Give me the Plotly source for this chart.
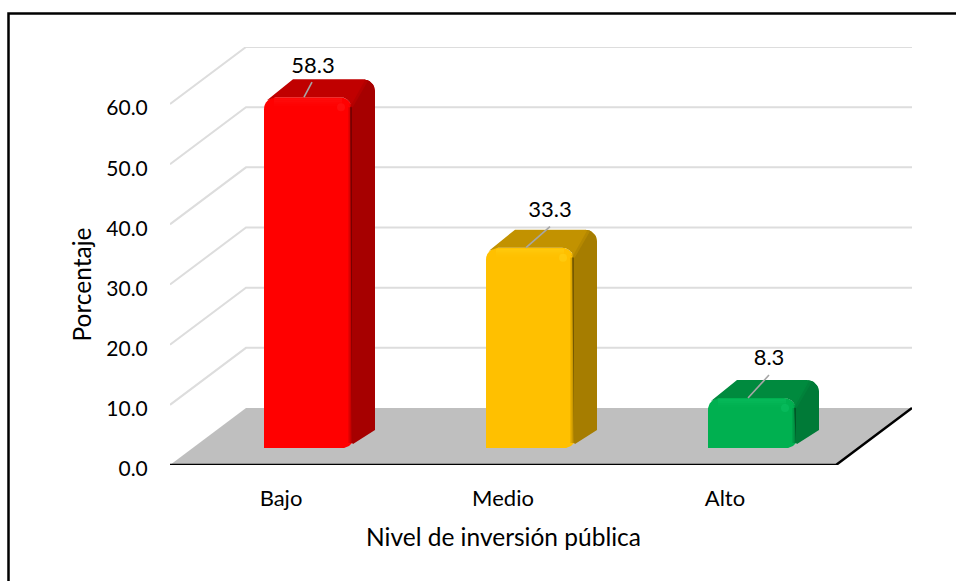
import math
import plotly.graph_objects as go

categories = ["Bajo", "Medio", "Alto"]
values = [58.3, 33.3, 8.3]
tick_values = [0, 10, 20, 30, 40, 50, 60]
tick_labels = ["0.0", "10.0", "20.0", "30.0", "40.0", "50.0", "60.0"]
x_title = "Nivel de inversión pública"
y_title = "Porcentaje"

front_colors = ["#FF0000", "#FFC000", "#00B050"]
top_colors = ["#C00000", "#C29200", "#008A3E"]
side_colors = ["#A60000", "#A67D00", "#007A37"]
glow_colors = ["#FF2020", "#FFD820", "#10C868"]
FLOOR = "#BFBFBF"

# layout scale (pixels per axis unit)
W, H = 956, 581
L, R, T, B = 170, 44, 47, 116
PXX = 222.0
FLOOR_DX = 76 / PXX
PXY = (H - T - B) / 69.48
FLOOR_DY = 57 / PXY
BAR_W = 88 / PXX
BAR_SHIFT = 27 / PXX
BASE = 17 / PXY
DEP_X = 23 / PXX
DEP_Y = 18 / PXY
RAD = 12

label_dx = [5, 20, 17]
label_dy = [30, 36, 39]
leader_dx = [8, 24, 21]
leader_dy = [15, 21, 23]


def px(d):
    return d / PXX


def py(d):
    return d / PXY


def arc(cx, cy, a0, a1, r, n=8):
    out = []
    for i in range(n + 1):
        a = math.radians(a0 + (a1 - a0) * i / n)
        out.append((cx + px(r * math.cos(a)), cy + py(r * math.sin(a))))
    return out


def poly(points, color, opacity=1.0):
    return go.Scatter(
        x=[p[0] for p in points] + [points[0][0]],
        y=[p[1] for p in points] + [points[0][1]],
        mode="lines", fill="toself", fillcolor=color, opacity=opacity,
        line=dict(width=0, color=color), hoverinfo="skip", showlegend=False,
    )


def strip(x0, y0, x1, y1, color, opacity, width=1.0):
    return go.Scatter(
        x=[x0, x1], y=[y0, y1], mode="lines", opacity=opacity,
        line=dict(width=width, color=color), hoverinfo="skip", showlegend=False,
    )


centres = [i + 0.5 + BAR_SHIFT for i in range(len(values))]

shapes = []
shapes.append(dict(type="path", xref="x", yref="y", layer="below", line_width=0,
                   fillcolor=FLOOR,
                   path=f"M0,0 L3,0 L{3 + FLOOR_DX},{FLOOR_DY} L{FLOOR_DX},{FLOOR_DY} Z"))
for v in tick_values[1:]:
    shapes.append(dict(type="path", xref="x", yref="y", layer="below",
                       line=dict(color="#DDDDDD", width=2),
                       path=f"M0,{v} L{FLOOR_DX},{v + FLOOR_DY} L{3 + FLOOR_DX},{v + FLOOR_DY}"))

traces = []
traces.append(go.Bar(x=centres, y=values, base=[BASE] * 3, width=[BAR_W] * 3,
                     marker=dict(color=front_colors, line_width=0, cornerradius=RAD),
                     hoverinfo="skip", showlegend=False))

for i, v in enumerate(values):
    c = centres[i]
    xl, xr = c - BAR_W / 2, c + BAR_W / 2
    y0, y1 = BASE, BASE + v
    # square off the lower edge of the front face
    low = [(xl, y0), (xr - px(8), y0), (xr - px(3), y0 + py(2)), (xr, y0 + py(5)),
           (xr, y0 + py(13)), (xl, y0 + py(13))]
    traces.append(poly(low, front_colors[i]))
    # top face
    top = [(xl + px(3), y1 - py(3)), (xl + px(29), y1 + DEP_Y)]
    top += [(xr + DEP_X - px(12), y1 + DEP_Y)]
    top += arc(xr + DEP_X - px(12), y1 + DEP_Y - py(12), 90, 0, 12)
    top += [(xr, y1 - py(12))]
    top += arc(xr - px(12), y1 - py(12), 0, 90, 12, 5)
    top += [(xl + px(12), y1)]
    traces.append(poly(top, top_colors[i]))
    # side face
    side = [(xr - px(2), y1 - py(10))]
    side += [(xr + DEP_X - px(10), y1 + DEP_Y - py(1))]
    side += arc(xr + DEP_X - px(12), y1 + DEP_Y - py(12), 90, 0, 12)
    side += [(xr + DEP_X, y0 + DEP_Y), (xr + px(1), y0 + py(4)), (xr, y0 + py(5))]
    traces.append(poly(side, side_colors[i]))
    # soft crease between top and side
    traces.append(strip(xr - px(1), y1 - py(9), xr + DEP_X - px(9), y1 + DEP_Y - py(1),
                        top_colors[i], 0.55, 4))
    # bevel shading on the front face
    for k, op in enumerate([0.28, 0.2, 0.13, 0.07]):
        xs = xr - px(k * 1.0 + 0.5)
        traces.append(strip(xs, y0 + py(5), xs, y1 - py(10), "#000000", op, 1.0))
    for k, op in enumerate([0.35, 0.25, 0.15, 0.08]):
        ys = y1 - py(2 + k * 2)
        traces.append(strip(xl + px(10), ys, xr - px(10), ys, glow_colors[i], op, 2))
    traces.append(go.Scatter(x=[xr - px(11)], y=[y1 - py(10)], mode="markers",
                             marker=dict(size=8, color=glow_colors[i], opacity=0.4, line_width=0),
                             hoverinfo="skip", showlegend=False))
    # leader line
    sx, sy = c - px(4), y1
    traces.append(strip(sx, sy, sx + px(leader_dx[i]), sy + py(leader_dy[i]), "#A6A6A6", 1, 1.6))

# value labels
traces.append(go.Scatter(
    x=[centres[i] + px(label_dx[i]) for i in range(3)],
    y=[BASE + values[i] + py(label_dy[i]) for i in range(3)],
    mode="text", text=[f"{v:.1f}" for v in values], textposition="middle center",
    textfont=dict(family="Lato", size=22, color="#000000"),
    hoverinfo="skip", showlegend=False, cliponaxis=False,
))

# front floor edges
traces.append(go.Scatter(x=[0, 3, 3 + FLOOR_DX], y=[0, 0, FLOOR_DY], mode="lines",
                         line=dict(color="#000000", width=2.5), hoverinfo="skip",
                         showlegend=False, cliponaxis=False))

fig = go.Figure(traces)
fig.update_layout(
    width=W, height=H, margin=dict(l=L, r=R, t=T, b=B),
    paper_bgcolor="#FFFFFF", plot_bgcolor="rgba(0,0,0,0)",
    font=dict(family="Lato", size=20, color="#000000"),
    shapes=shapes + [dict(type="rect", xref="paper", yref="paper",
                          x0=-L / (W - L - R) + 8.5 / (W - L - R), x1=1 + (R + 20) / (W - L - R),
                          y0=-(B + 20) / (H - T - B), y1=1 + (T - 13.5) / (H - T - B),
                          line=dict(color="#000000", width=2.5), layer="below")],
    annotations=[
        dict(text=x_title, xref="x", yref="y", x=1.5, y=0, yshift=-71, showarrow=False,
             xanchor="center", yanchor="middle", font=dict(size=24.5)),
        dict(text=y_title, xref="x", yref="y", x=0, y=30, xshift=-89, showarrow=False,
             textangle=-90, xanchor="center", yanchor="middle", font=dict(size=24.5)),
    ],
    xaxis=dict(range=[0, 3 + FLOOR_DX], tickmode="array", tickvals=[0.5, 1.5, 2.5],
               ticktext=categories, showgrid=False, zeroline=False, showline=False,
               ticks="outside", ticklen=14, tickcolor="rgba(0,0,0,0)", tickfont=dict(size=22)),
    yaxis=dict(range=[0, 60 + FLOOR_DY], tickmode="array", tickvals=tick_values,
               ticktext=tick_labels, showgrid=False, zeroline=False, showline=False,
               ticks="outside", ticklen=17, tickcolor="rgba(0,0,0,0)", tickfont=dict(size=21),
               ticklabelshift=4),
)
fig.write_html("out.html", config=dict(displayModeBar=False),
               post_script="document.body.style.margin='0';document.body.style.overflow='hidden';")
